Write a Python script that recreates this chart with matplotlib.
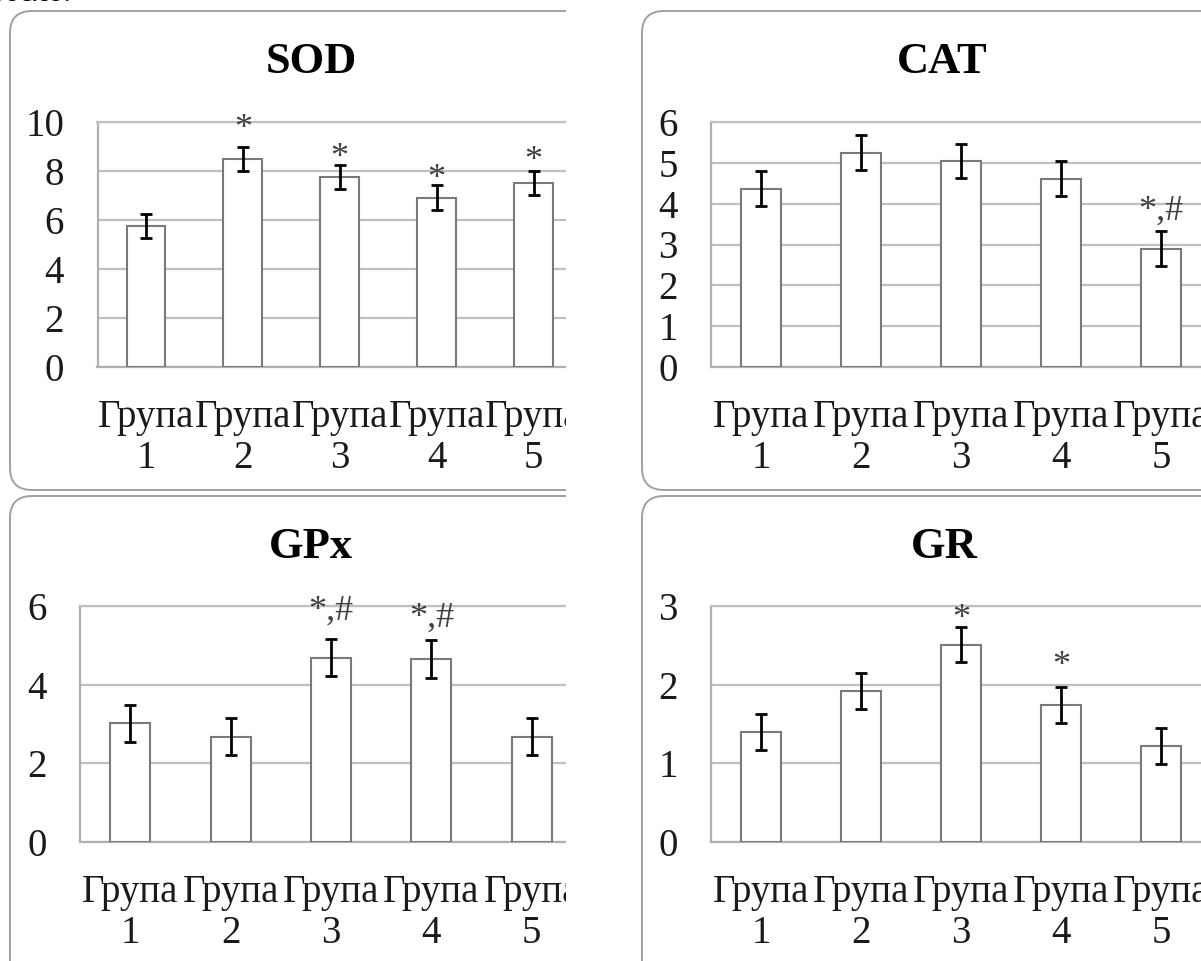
import matplotlib
matplotlib.use('Agg')
import matplotlib.pyplot as plt
from matplotlib.patches import FancyBboxPatch, Rectangle
from matplotlib.transforms import IdentityTransform

W, H = 1201, 961

grupe = ['Група\n1', 'Група\n2', 'Група\n3', 'Група\n4', 'Група\n5']

sod = [5.75, 8.48, 7.74, 6.91, 7.50]
sod_err = [0.48, 0.49, 0.49, 0.50, 0.48]
sod_mark = ['', '*', '*', '*', '*']
sod_mark_y = [0, 9.35, 8.16, 7.31, 8.04]

cat = [4.37, 5.25, 5.04, 4.61, 2.90]
cat_err = [0.42, 0.43, 0.42, 0.43, 0.43]
cat_mark = ['', '', '', '', '*,#']
cat_mark_y = [0, 0, 0, 0, 3.6]

gpx = [3.02, 2.67, 4.69, 4.65, 2.67]
gpx_err = [0.47, 0.47, 0.47, 0.49, 0.47]
gpx_mark = ['', '', '*,#', '*,#', '']
gpx_mark_y = [0, 0, 5.65, 5.47, 0]

gr = [1.40, 1.92, 2.51, 1.74, 1.22]
gr_err = [0.225, 0.23, 0.227, 0.23, 0.233]
gr_mark = ['', '', '*', '*', '']
gr_mark_y = [0, 0, 2.72, 2.12, 0]

plt.rcParams['font.family'] = ['Liberation Serif', 'DejaVu Serif']

fig = plt.figure(figsize=(W / 100, H / 100), dpi=100)
fig.patch.set_facecolor('white')


def okvir(x0, y0, x1, y1):
    # panel border in pixels, y measured from the top
    p = FancyBboxPatch((x0, H - y1), x1 - x0, y1 - y0,
                       boxstyle='round,pad=0,rounding_size=22',
                       transform=IdentityTransform(), facecolor='none',
                       edgecolor='#a0a0a0', linewidth=1.4, zorder=1)
    fig.patches.append(p)


def grafik(left, top, right, bottom, vals, errs, marks, mark_y,
           ymax, step, naslov, tx, ty):
    ax = fig.add_axes([left / W, (H - bottom) / H, (right - left) / W, (bottom - top) / H])
    ax.set_facecolor('none')
    x = list(range(len(vals)))
    ax.bar(x, vals, width=0.4, color='white', edgecolor='#7a7a7a', linewidth=1.5, zorder=3)
    ax.errorbar(x, vals, yerr=errs, fmt='none', ecolor='black', elinewidth=2,
                capsize=4.5, capthick=2, zorder=4)
    for i, m in enumerate(marks):
        if m:
            ax.text(i, mark_y[i], m, ha='center', va='baseline', fontsize=26,
                    color='#404040', zorder=5)
    ax.set_xlim(-0.5, 4.5)
    ax.set_ylim(0, ymax)
    ax.set_yticks(range(0, ymax + 1, step))
    ax.set_xticks(x)
    ax.set_xticklabels(grupe, linespacing=1.15)
    ax.tick_params(axis='x', length=0, pad=23, labelsize=28, colors='#1a1a1a')
    ax.tick_params(axis='y', length=0, pad=24, labelsize=28, colors='#1a1a1a')
    ax.yaxis.grid(True, color='#c0c0c0', linewidth=1.6, zorder=0)
    ax.set_axisbelow(True)
    ax.spines['right'].set_visible(False)
    for s in ['left', 'top', 'bottom']:
        ax.spines[s].set_color('#b0b0b0')
        ax.spines[s].set_linewidth(1.6)
    ax.spines['top'].set_color('#c0c0c0')
    fig.text(tx / W, 1 - ty / H, naslov, ha='center', va='baseline',
             fontsize=32, fontweight='bold')
    return ax


okvir(10, 11, 612, 490)
okvir(642, 11, 1300, 490)
okvir(10, 496, 612, 1100)
okvir(642, 496, 1300, 1100)

grafik(97.5, 122, 582, 367, sod, sod_err, sod_mark, sod_mark_y, 10, 2, 'SOD', 311, 73)
grafik(711, 122, 1211, 367, cat, cat_err, cat_mark, cat_mark_y, 6, 1, 'CAT', 942, 73)
grafik(80, 606, 582, 842, gpx, gpx_err, gpx_mark, gpx_mark_y, 6, 2, 'GPx', 311, 558)
grafik(711, 606, 1211, 842, gr, gr_err, gr_mark, gr_mark_y, 3, 1, 'GR', 944, 558)

# the left charts are cropped in the source document
fig.patches.append(Rectangle((566, 0), 74, H, transform=IdentityTransform(),
                             facecolor='white', edgecolor='none', zorder=10))

fig.text(72 / W, 1 - 1 / H, 'обело.', ha='right', va='baseline', fontsize=22)

fig.savefig('out.png', dpi=100)
